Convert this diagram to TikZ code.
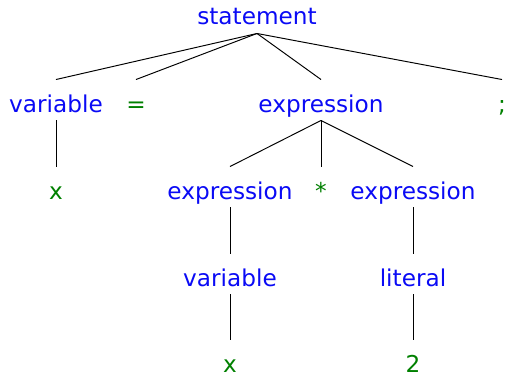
\documentclass[tikz,border=0pt]{standalone}
\usepackage{fontspec}
\setmainfont{DejaVu Sans}
\definecolor{ntblue}{RGB}{10,10,245}
\definecolor{tmgreen}{RGB}{0,128,0}
\tikzstyle{sym} = [anchor=base, inner sep=0pt, text height=0.64cm, text depth=0.16cm, font=\fontsize{13.2}{16}\selectfont]
\tikzstyle{nt} = [sym, text=ntblue]
\tikzstyle{tm} = [sym, text=tmgreen]

\begin{document}
\begin{tikzpicture}[x=0.02cm, y=-0.02cm, line width=0.55pt]
\useasboundingbox (0,0) rectangle (506,375);

\node (stmt) [nt] at (257,25) {statement};

\node (var) [nt] at (56,112) {variable};
\node (eq) [tm] at (136,112) {=};
\node (expr) [nt] at (321,112) {expression};
\node (semi) [tm] at (502,112) {;};

\node (x1) [tm] at (56,199) {x};
\node (lhs) [nt] at (230,199) {expression};
\node (times) [tm] at (321,199) {*};
\node (rhs) [nt] at (413,199) {expression};

\node (var2) [nt] at (230,286) {variable};
\node (lit) [nt] at (413,286) {literal};

\node (x2) [tm] at (230,372) {x};
\node (two) [tm] at (413,372) {2};

\draw (stmt.south) -- (var.north);
\draw (stmt.south) -- (eq.north);
\draw (stmt.south) -- (expr.north);
\draw (stmt.south) -- (semi.north);
\draw (var.south) -- (x1.north);
\draw (expr.south) -- (lhs.north);
\draw (expr.south) -- (times.north);
\draw (expr.south) -- (rhs.north);
\draw (lhs.south) -- (var2.north);
\draw (rhs.south) -- (lit.north);
\draw (var2.south) -- (x2.north);
\draw (lit.south) -- (two.north);

\end{tikzpicture}
\end{document}
